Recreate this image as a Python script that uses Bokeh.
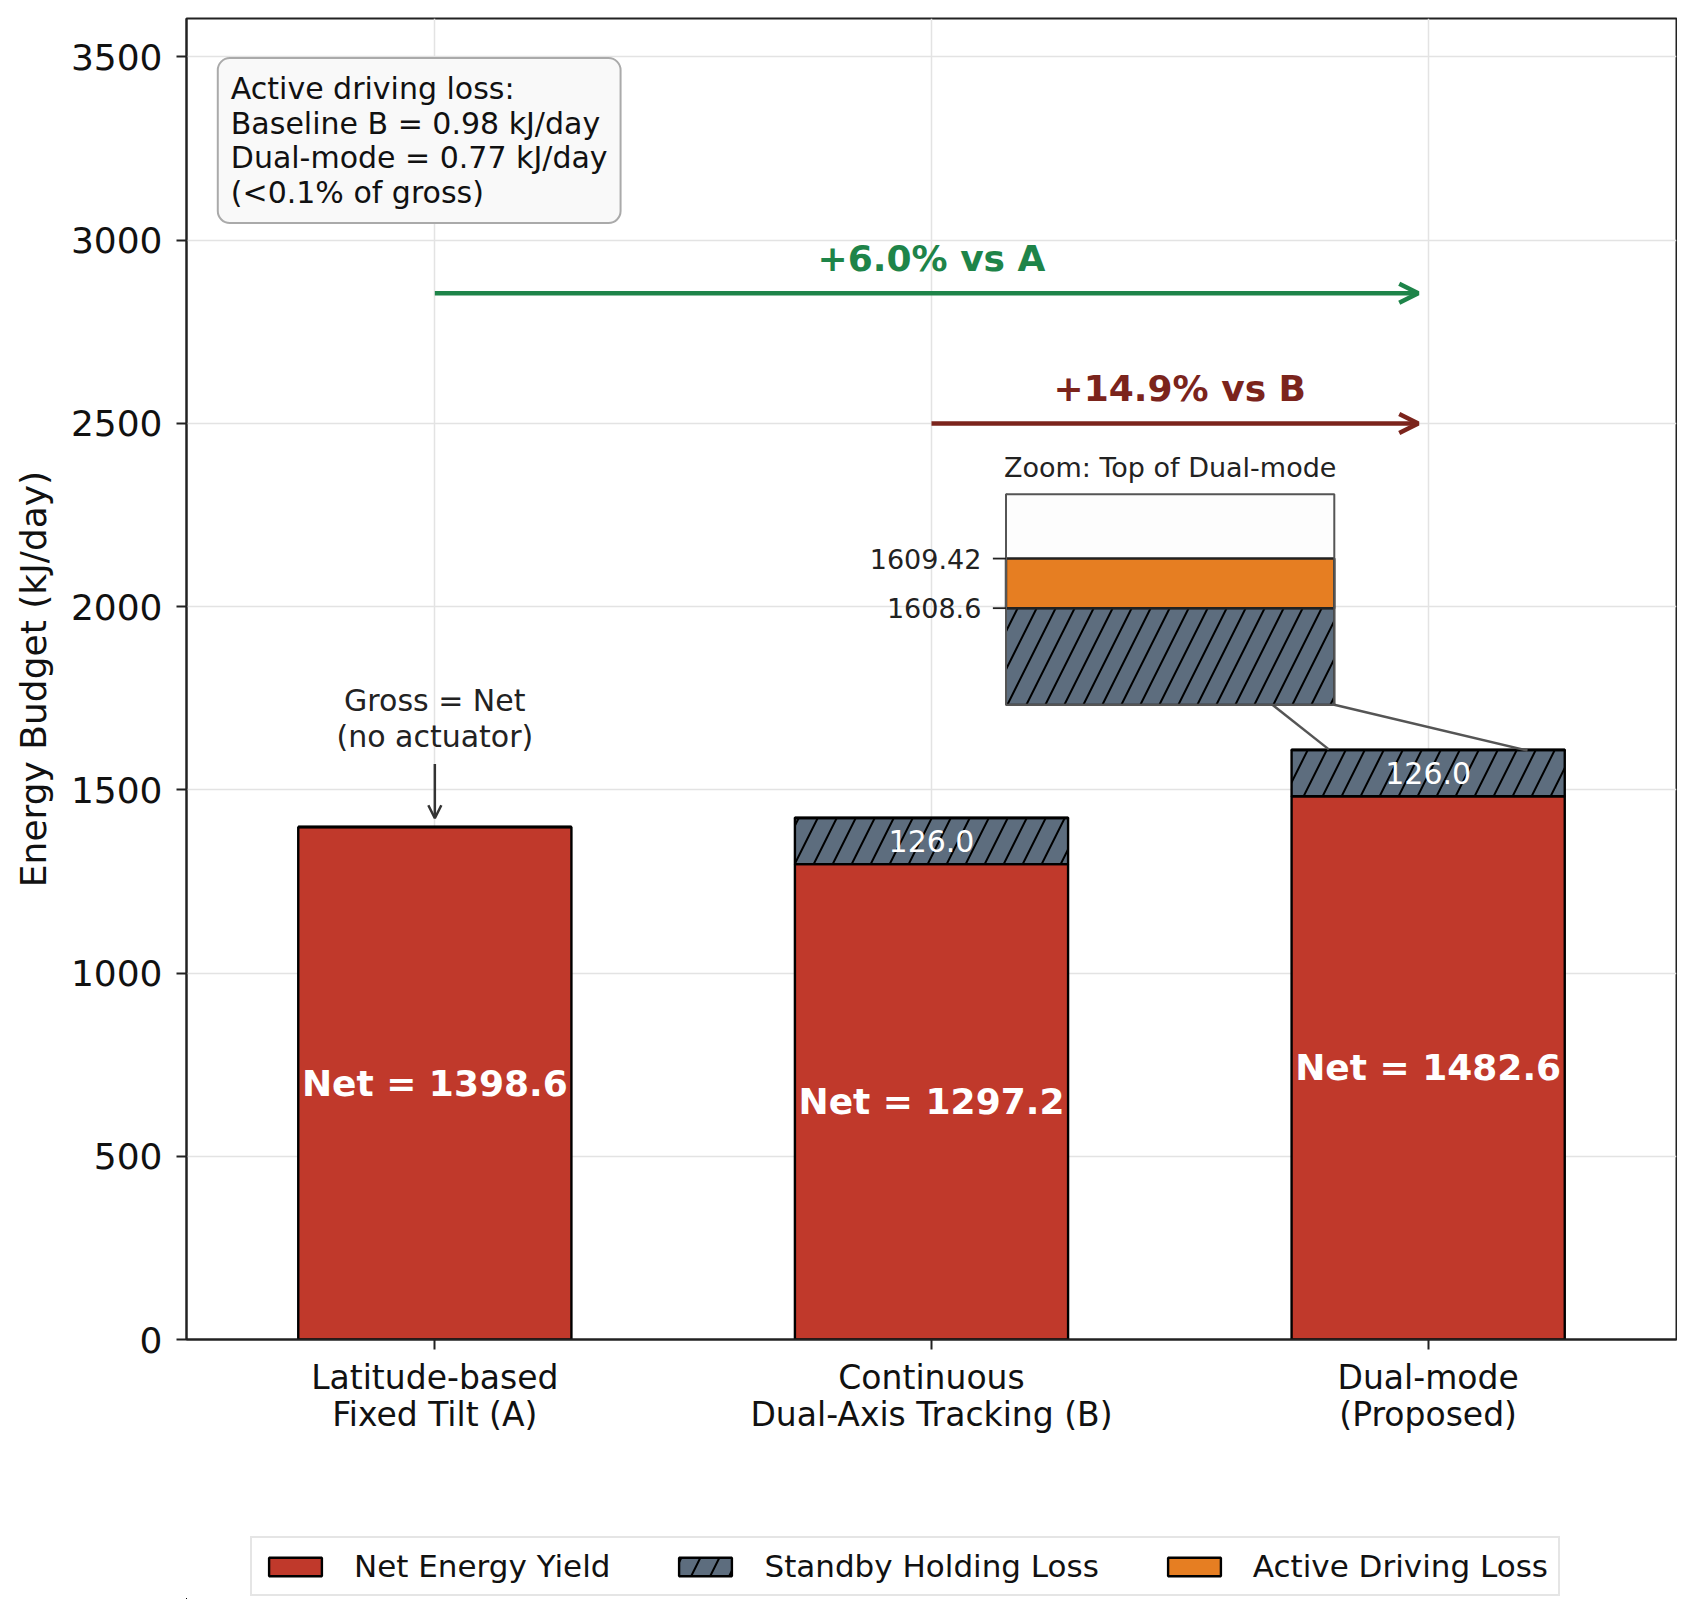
import numpy as np
from bokeh.plotting import figure
from bokeh.layouts import column
from bokeh.models import (Range1d, FixedTicker, Legend, LegendItem, Label, Arrow,
                          OpenHead, ColumnDataSource)
from bokeh.core.properties import value
from bokeh.embed import file_html
from bokeh.resources import INLINE

# ---------------- data ----------------
categories = ["Latitude-based\nFixed Tilt (A)",
              "Continuous\nDual-Axis Tracking (B)",
              "Dual-mode\n(Proposed)"]
net_yield = [1398.6, 1297.2, 1482.65]
standby_loss = [0.0, 126.0, 126.0]
active_loss = [0.0, 0.98, 0.77]
net_labels = ["Net = 1398.6", "Net = 1297.2", "Net = 1482.6"]
standby_labels = ["", "126.0", "126.0"]
inset_tick_labels = ["1608.6", "1609.42"]
y_ticks = [0, 500, 1000, 1500, 2000, 2500, 3000, 3500]
gain_labels = ["+6.0% vs A", "+14.9% vs B"]
info_lines = ["Active driving loss:",
              "Baseline B = 0.98 kJ/day",
              "Dual-mode = 0.77 kJ/day",
              "(<0.1% of gross)"]
legend_labels = ["Net Energy Yield", "Standby Holding Loss", "Active Driving Loss"]
note_text = "Gross = Net\n(no actuator)"
inset_title = "Zoom: Top of Dual-mode"
y_label = "Energy Budget (kJ/day)"

# ---------------- style ----------------
FN = "DejaVu Sans"
FONT = value(FN)
NET_C = "#c0392b"
STBY_C = "#5d6d7e"
ACT_C = "#e67e22"
GREEN = "#1e8449"
DRED = "#7b241c"
BAR_W = 0.55
Y_MAX = 3605
HATCH = dict(hatch_pattern="/", hatch_color="black", hatch_scale=38, hatch_weight=2)
BAR_STYLE = dict(line_color="black", line_width=2.4)

x = np.arange(len(categories))
net = np.array(net_yield)
stb = np.array(standby_loss)
act = np.array(active_loss)
st_top = net + stb
gross = st_top + act

src = ColumnDataSource(dict(x=x, net=net, st_top=st_top, gross=gross,
                            net_mid=net / 2, net_lab=net_labels))
mask = stb > 0
src_st = ColumnDataSource(dict(x=x[mask], y=(net + stb / 2)[mask],
                               lab=[l for l, m in zip(standby_labels, mask) if m]))

p = figure(width=1677, height=1449, x_range=Range1d(-0.5, 2.5), y_range=Range1d(0, Y_MAX),
           output_backend="svg", toolbar_location=None,
           min_border_left=186, min_border_right=1, min_border_top=18, min_border_bottom=110)
p.background_fill_color = "white"
p.border_fill_color = "white"
p.outline_line_color = "#222222"
p.outline_line_width = 2

# grid
p.xgrid.ticker = FixedTicker(ticks=list(x))
p.ygrid.ticker = FixedTicker(ticks=y_ticks)
for g in (p.xgrid, p.ygrid):
    g.grid_line_color = "#e3e3e3"
    g.grid_line_width = 1.5

# axes
p.xaxis.ticker = FixedTicker(ticks=list(x))
p.xaxis.major_label_overrides = {int(i): c for i, c in zip(x, categories)}
p.yaxis.ticker = FixedTicker(ticks=y_ticks)
for ax in (p.xaxis, p.yaxis):
    ax.axis_line_color = "#222222"
    ax.axis_line_width = 2
    ax.major_tick_line_color = "#222222"
    ax.major_tick_line_width = 2
    ax.major_tick_out = 10
    ax.major_tick_in = 0
    ax.minor_tick_line_color = None
    ax.major_label_text_font = FN
    ax.major_label_text_color = "#111111"
p.xaxis.major_label_text_font_size = "33px"
p.xaxis.major_label_text_line_height = 0.95
p.xaxis.major_label_standoff = 8
p.yaxis.major_label_text_font_size = "36px"
p.yaxis.major_label_standoff = 14
p.yaxis.axis_label = y_label
p.yaxis.axis_label_text_font = FN
p.yaxis.axis_label_text_font_size = "36px"
p.yaxis.axis_label_text_font_style = "normal"
p.yaxis.axis_label_text_color = "#111111"
p.yaxis.axis_label_standoff = 14

# bars
p.vbar(x="x", width=BAR_W, bottom=0, top="net", source=src, fill_color=NET_C, **BAR_STYLE)
p.vbar(x="x", width=BAR_W, bottom="net", top="st_top", source=src, fill_color=STBY_C,
       **BAR_STYLE, **HATCH)
p.vbar(x="x", width=BAR_W, bottom="st_top", top="gross", source=src, fill_color=ACT_C,
       **BAR_STYLE)

p.text(x="x", y="net_mid", text="net_lab", source=src, text_color="white",
       text_font=FONT, text_font_style="bold", text_font_size="36px",
       text_align="center", text_baseline="middle")
p.text(x="x", y="y", text="lab", source=src_st, text_color="white",
       text_font=FONT, text_font_size="30px",
       text_align="center", text_baseline="middle")

# gain arrows
ARROW_Y = [2855, 2500]
starts = [0, 1]
cols = [GREEN, DRED]
for s, yy, c, lab in zip(starts, ARROW_Y, cols, gain_labels):
    p.add_layout(Arrow(end=OpenHead(size=19, line_color=c, line_width=4.5),
                       x_start=s, y_start=yy, x_end=x[2] - 0.02, y_end=yy,
                       line_color=c, line_width=4.5))
    p.text(x=[(s + x[2]) / 2], y=[yy + 95], text=[lab], text_color=c,
           text_font=FONT, text_font_style="bold", text_font_size="36px",
           text_align="center", text_baseline="middle")

# note on bar A
p.text(x=[x[0]], y=[gross[0] + 297], text=[note_text], text_color="#222222",
       text_font=FONT, text_font_size="30px", text_align="center",
       text_baseline="middle", text_line_height=1.03)
p.add_layout(Arrow(end=OpenHead(size=13, line_color="#333333", line_width=2.5),
                   x_start=x[0], y_start=gross[0] + 172, x_end=x[0], y_end=gross[0] + 24,
                   line_color="#333333", line_width=2.5))

# info box
p.add_layout(Label(x=-0.437, y=3497, text="\n".join(info_lines), text_align="left",
                   text_baseline="top", text_font=FN, text_font_size="30px",
                   text_color="#111111", text_line_height=0.99,
                   padding=13, border_radius=12,
                   background_fill_color="#f9f9f9", background_fill_alpha=1.0,
                   border_line_color="#aaaaaa", border_line_width=2))

# ---------------- inset ----------------
IN_X0, IN_X1, IN_Y0, IN_Y1 = 1.150, 1.811, 1732, 2307   # inset box in main coords
IX0, IX1 = x[2] - 0.2, x[2] + 0.2
IY0, IY1 = st_top[2] - 1.5, gross[2] + 1.0
ax_ = (IN_X1 - IN_X0) / (IX1 - IX0)
ay_ = (IN_Y1 - IN_Y0) / (IY1 - IY0)
p.extra_x_ranges = {"ix": Range1d(IX0 + (-0.5 - IN_X0) / ax_, IX0 + (2.5 - IN_X0) / ax_)}
p.extra_y_ranges = {"iy": Range1d(IY0 + (0 - IN_Y0) / ay_, IY0 + (Y_MAX - IN_Y0) / ay_)}

# connectors
p.segment(x0=[IX0, IX1], y0=[IY1, IY0], x1=[IN_X0, IN_X1], y1=[IN_Y1, IN_Y0],
          line_color="#555555", line_width=2.5)
p.quad(left=[IN_X0], right=[IN_X1], bottom=[IN_Y0], top=[IN_Y1],
       fill_color="#fdfdfd", line_color=None)
bl = max(x[2] - BAR_W / 2, IX0)
br = min(x[2] + BAR_W / 2, IX1)
p.quad(left=[bl], right=[br], bottom=[max(net[2], IY0)], top=[st_top[2]],
       fill_color=STBY_C, line_color="#222222", line_width=2,
       x_range_name="ix", y_range_name="iy", **HATCH)
p.quad(left=[bl], right=[br], bottom=[st_top[2]], top=[min(gross[2], IY1)],
       fill_color=ACT_C, line_color="#222222", line_width=2.4,
       x_range_name="ix", y_range_name="iy")
p.quad(left=[IN_X0], right=[IN_X1], bottom=[IN_Y0], top=[IN_Y1],
       fill_color=None, line_color="#555555", line_width=2)
tick_len = 0.04 * (IX1 - IX0)
p.segment(x0=[IX0 - tick_len] * 2, x1=[IX0] * 2, y0=[st_top[2], gross[2]], y1=[st_top[2], gross[2]],
          line_color="#222222", line_width=1.8, x_range_name="ix", y_range_name="iy")
p.text(x=[IX0 - 0.075 * (IX1 - IX0)] * 2, y=[st_top[2], gross[2]], text=inset_tick_labels,
       text_font=FONT, text_font_size="27px", text_color="#222222",
       text_align="right", text_baseline="middle", x_range_name="ix", y_range_name="iy")
p.text(x=[(IN_X0 + IN_X1) / 2], y=[IN_Y1 + 30], text=[inset_title],
       text_font=FONT, text_font_size="27px", text_color="#222222",
       text_align="center", text_baseline="bottom")

# ---------------- legend strip (separate figure under the chart) ----------------
# the same bar series are referenced here, but the visible x/y windows lie far away from
# the data, so only the legend swatches show
lg = figure(width=1677, height=150, x_range=Range1d(1e6, 1e6 + 1), y_range=Range1d(1e6, 1e6 + 1),
            output_backend="svg", toolbar_location=None, min_border=0,
            x_axis_type=None, y_axis_type=None)
lg.outline_line_color = None
lg.background_fill_color = "white"
lg.border_fill_color = "white"
lg.grid.visible = False
g_net = lg.vbar(x="x", width=BAR_W, bottom=0, top="net", source=src, fill_color=NET_C, **BAR_STYLE)
g_st = lg.vbar(x="x", width=BAR_W, bottom="net", top="st_top", source=src, fill_color=STBY_C,
               **BAR_STYLE, **HATCH)
g_act = lg.vbar(x="x", width=BAR_W, bottom="st_top", top="gross", source=src, fill_color=ACT_C,
                **BAR_STYLE)
legend = Legend(items=[LegendItem(label=legend_labels[0], renderers=[g_net]),
                       LegendItem(label=legend_labels[1], renderers=[g_st]),
                       LegendItem(label=legend_labels[2], renderers=[g_act])],
                orientation="horizontal", location=(64, 3),
                glyph_width=66, glyph_height=23, label_standoff=26, spacing=62,
                padding=10, margin=0, label_text_font=FN, label_text_font_size="31px",
                label_text_color="#111111",
                border_line_color="#cccccc", border_line_width=2,
                background_fill_color="white", background_fill_alpha=1.0)
lg.add_layout(legend)

page = column(p, lg, spacing=0)
open("out.html", "w").write(file_html(page, INLINE))
